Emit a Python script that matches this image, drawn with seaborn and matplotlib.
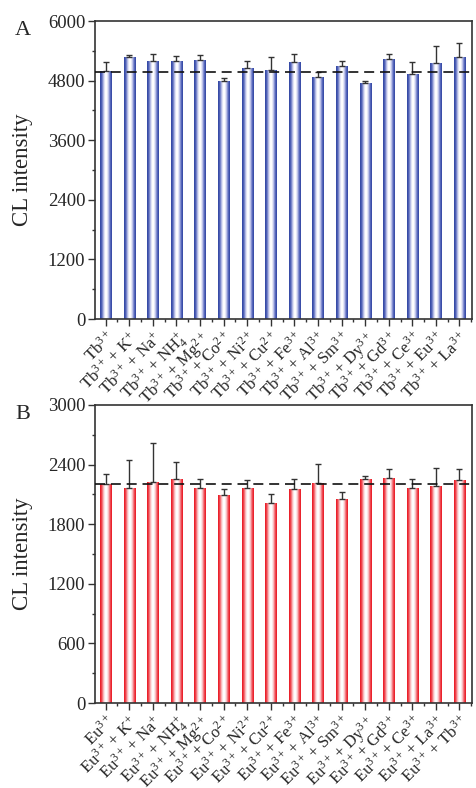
import numpy as np
import pandas as pd
import matplotlib
matplotlib.use("Agg")
import matplotlib.pyplot as plt
from matplotlib.colors import LinearSegmentedColormap
from matplotlib.ticker import MultipleLocator, AutoMinorLocator, FixedLocator
import seaborn as sns

# ---------------- data ----------------
tb_labels = ["Tb$^{3+}$", "Tb$^{3+}$ + K$^{+}$", "Tb$^{3+}$ + Na$^{+}$", "Tb$^{3+}$ + NH$_4^{+}$",
             "Tb$^{3+}$ + Mg$^{2+}$", "Tb$^{3+}$ + Co$^{2+}$", "Tb$^{3+}$ + Ni$^{2+}$", "Tb$^{3+}$ + Cu$^{2+}$",
             "Tb$^{3+}$ + Fe$^{3+}$", "Tb$^{3+}$ + Al$^{3+}$", "Tb$^{3+}$ + Sm$^{3+}$", "Tb$^{3+}$ + Dy$^{3+}$",
             "Tb$^{3+}$ + Gd$^{3+}$", "Tb$^{3+}$ + Ce$^{3+}$", "Tb$^{3+}$ + Eu$^{3+}$", "Tb$^{3+}$ + La$^{3+}$"]
tb_values = [4990, 5274, 5194, 5194, 5214, 4798, 5053, 5012,
             5173, 4871, 5093, 4751, 5234, 4939, 5153, 5274]
tb_errors = [190, 35, 135, 110, 105, 60, 140, 270,
             160, 105, 95, 47, 105, 240, 340, 275]
tb_ref = 4980

eu_labels = ["Eu$^{3+}$", "Eu$^{3+}$ + K$^{+}$", "Eu$^{3+}$ + Na$^{+}$", "Eu$^{3+}$ + NH$_4^{+}$",
             "Eu$^{3+}$ + Mg$^{2+}$", "Eu$^{3+}$ + Co$^{2+}$", "Eu$^{3+}$ + Ni$^{2+}$", "Eu$^{3+}$ + Cu$^{2+}$",
             "Eu$^{3+}$ + Fe$^{3+}$", "Eu$^{3+}$ + Al$^{3+}$", "Eu$^{3+}$ + Sm$^{3+}$", "Eu$^{3+}$ + Dy$^{3+}$",
             "Eu$^{3+}$ + Gd$^{3+}$", "Eu$^{3+}$ + Ce$^{3+}$", "Eu$^{3+}$ + La$^{3+}$", "Eu$^{3+}$ + Tb$^{3+}$"]
eu_values = [2202, 2161, 2225, 2255, 2164, 2094, 2164, 2013,
             2154, 2212, 2054, 2255, 2265, 2164, 2184, 2245]
eu_errors = [100, 290, 390, 170, 90, 57, 78, 94,
             100, 197, 67, 33, 94, 94, 185, 114]
eu_ref = 2200

# ---------------- style ----------------
sns.set_style("ticks")
plt.rcParams["font.family"] = ["Liberation Serif", "DejaVu Serif"]
plt.rcParams["mathtext.fontset"] = "custom"
plt.rcParams["mathtext.rm"] = "Liberation Serif"
plt.rcParams["mathtext.it"] = "Liberation Serif:italic"
plt.rcParams["mathtext.bf"] = "Liberation Serif:bold"
plt.rcParams["mathtext.default"] = "regular"

fig = plt.figure(figsize=(4.76, 7.88), dpi=100)
ax1 = fig.add_axes([95/476, 1-319/788, (472-95)/476, (319-21)/788])
ax2 = fig.add_axes([95/476, 1-703/788, (472-95)/476, (703-405)/788])

blue_cmap = LinearSegmentedColormap.from_list(
    "bl", ["#2f43a0", "#5062b8", "#b4b9e4", "#ffffff", "#ffffff", "#c0c4ea", "#5c6cc0", "#2f43a0"])
red_cmap = LinearSegmentedColormap.from_list(
    "rd", ["#e8141e", "#f04850", "#f8b8bc", "#ffffff", "#ffffff", "#f8c0c4", "#f05058", "#e8141e"])


def panel(ax, labels, values, errors, ref, ymax, step, cmap, base, letter):
    df = pd.DataFrame({"label": labels, "value": values})
    sns.barplot(data=df, x="label", y="value", color=base, width=0.47,
                ax=ax, errorbar=None, edgecolor="none")
    grad = np.linspace(0, 1, 64).reshape(1, -1)
    xs = []
    for p in ax.patches:
        x0, y0 = p.get_x(), p.get_y()
        w, h = p.get_width(), p.get_height()
        xs.append(x0 + w / 2)
        im = ax.imshow(grad, cmap=cmap, aspect="auto", extent=[x0, x0 + w, y0, y0 + h],
                       zorder=p.get_zorder() + 0.1, interpolation="bilinear")
        im.set_clip_path(p)
    ax.errorbar(xs, values, yerr=[np.zeros(len(errors)), errors], fmt="none",
                ecolor="#333333", elinewidth=1.0, capsize=2.5, capthick=1.0, zorder=5)
    ax.axhline(ref, color="#111111", lw=1.2, dashes=(6, 3.5), zorder=6)
    ax.set_xlim(-0.45, 15.53)
    ax.set_ylim(0, ymax)
    ax.yaxis.set_major_locator(MultipleLocator(step))
    ax.yaxis.set_minor_locator(AutoMinorLocator(2))
    ax.xaxis.set_minor_locator(FixedLocator(np.arange(-0.5, 16, 1.0)))
    ax.set_xlabel("")
    ax.set_ylabel("CL intensity", fontsize=16.5)
    ax.yaxis.set_label_coords(-0.165, 0.5)
    ax.tick_params(axis="both", which="major", direction="out", length=5, width=1,
                   labelsize=13.5, color="#333333", pad=2)
    ax.tick_params(axis="both", which="minor", direction="out", length=2.5, width=1, color="#333333")
    ax.tick_params(top=False, right=False, which="both")
    ax.set_xticks(range(len(labels)))
    ax.set_xticklabels(labels, rotation=45, ha="right", rotation_mode="anchor", fontsize=12)
    for s in ax.spines.values():
        s.set_visible(True)
        s.set_linewidth(1.2)
        s.set_color("#333333")
    ax.text(-0.212, 1.0, letter, transform=ax.transAxes, fontsize=16, va="top", ha="left")


panel(ax1, tb_labels, tb_values, tb_errors, tb_ref, 6000, 1200, blue_cmap, "#2f43a0", "A")
panel(ax2, eu_labels, eu_values, eu_errors, eu_ref, 3000, 600, red_cmap, "#e8141e", "B")

fig.savefig("out.png", dpi=100)
